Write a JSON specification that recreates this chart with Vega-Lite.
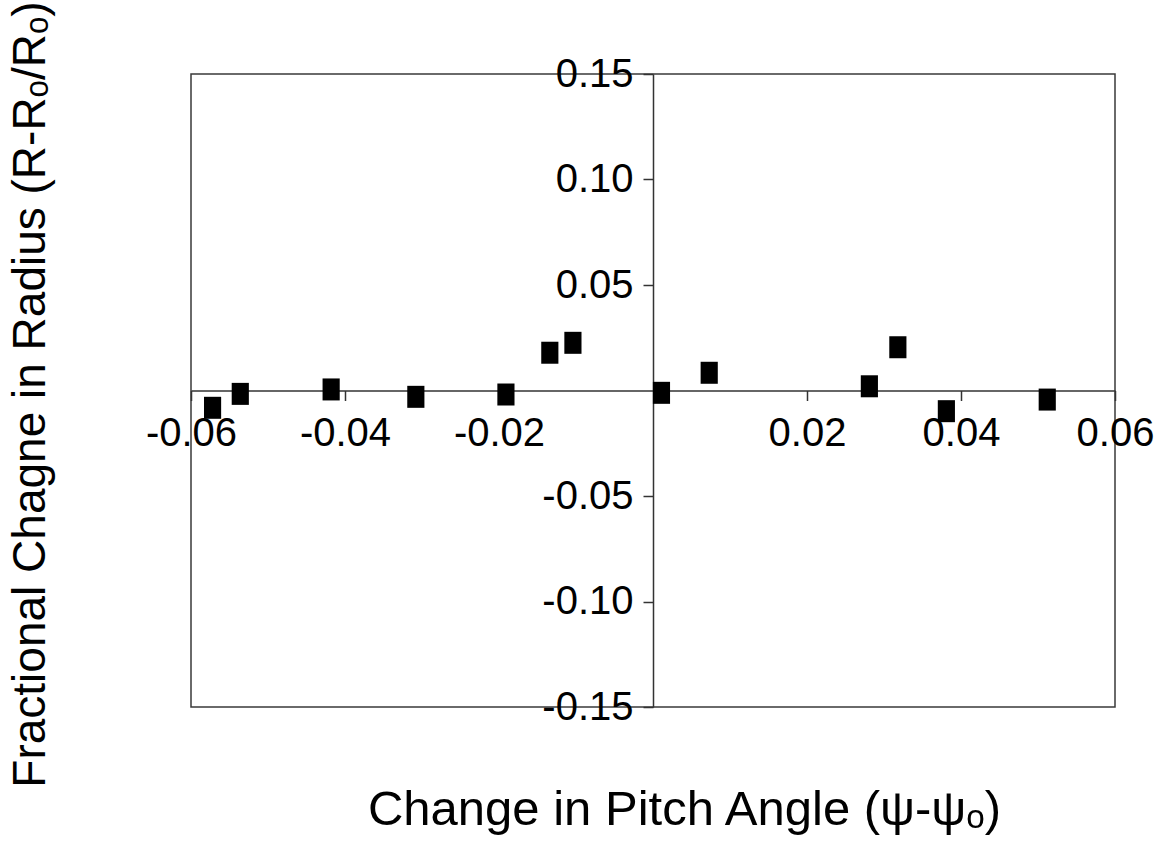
{
  "$schema": "https://vega.github.io/schema/vega-lite/v6.json",
  "autosize": {"type": "none"},
  "width": 924,
  "height": 633,
  "padding": {"left": 191, "top": 74, "right": 54, "bottom": 137},
  "background": "white",
  "config": {
    "font": "Liberation Sans",
    "view": {"stroke": "#3a3a3a", "strokeWidth": 1.5}
  },
  "data": {
    "values": [
      {"dpsi": -0.0572, "dr": -0.0082},
      {"dpsi": -0.0536, "dr": -0.0016},
      {"dpsi": -0.0418, "dr": 0.0005},
      {"dpsi": -0.0308, "dr": -0.0030},
      {"dpsi": -0.0191, "dr": -0.0019},
      {"dpsi": -0.0134, "dr": 0.0179},
      {"dpsi": -0.0104, "dr": 0.0226},
      {"dpsi": 0.0011, "dr": -0.0011},
      {"dpsi": 0.0073, "dr": 0.0084},
      {"dpsi": 0.0281, "dr": 0.0020},
      {"dpsi": 0.0318, "dr": 0.0205},
      {"dpsi": 0.0381, "dr": -0.0098},
      {"dpsi": 0.0512, "dr": -0.0043}
    ]
  },
  "mark": {
    "type": "point",
    "shape": "M-0.78,-1L0.78,-1L0.78,1L-0.78,1Z",
    "filled": true,
    "color": "black",
    "opacity": 1,
    "size": 484,
    "clip": false
  },
  "encoding": {
    "x": {
      "field": "dpsi",
      "type": "quantitative",
      "scale": {"domain": [-0.06, 0.06], "nice": false, "zero": false},
      "axis": {
        "orient": "bottom",
        "offset": -316.5,
        "values": [-0.06, -0.04, -0.02, 0.02, 0.04, 0.06],
        "format": ".2f",
        "labelExpr": "replace(datum.label, '−', '-')",
        "grid": false,
        "domainColor": "#333",
        "domainWidth": 1.5,
        "tickColor": "#333",
        "tickWidth": 1.5,
        "tickSize": 10,
        "labelFontSize": 40,
        "labelColor": "black",
        "labelPadding": 13,
        "labelFlush": false,
        "labelOverlap": false,
        "labelBound": false,
        "title": "Change in Pitch Angle (ψ-ψₒ)",
        "titleFontSize": 49,
        "titleFontWeight": "normal",
        "titleColor": "black",
        "titleX": 493,
        "titleY": 434,
        "titleAlign": "center",
        "titleBaseline": "alphabetic",
        "titleAnchor": null
      }
    },
    "y": {
      "field": "dr",
      "type": "quantitative",
      "scale": {"domain": [-0.15, 0.15], "nice": false, "zero": false},
      "axis": {
        "orient": "left",
        "offset": -462,
        "values": [-0.15, -0.10, -0.05, 0.05, 0.10, 0.15],
        "format": ".2f",
        "labelExpr": "replace(datum.label, '−', '-')",
        "grid": false,
        "domainColor": "#333",
        "domainWidth": 1.5,
        "tickColor": "#333",
        "tickWidth": 1.5,
        "tickSize": 10,
        "labelFontSize": 40,
        "labelColor": "black",
        "labelPadding": 10,
        "labelFlush": false,
        "labelOverlap": false,
        "labelBound": false,
        "title": "Fractional Chagne in Radius (R-Rₒ/Rₒ)",
        "titleFontSize": 46,
        "titleFontWeight": "normal",
        "titleColor": "black",
        "titleAngle": 270,
        "titleX": -609,
        "titleY": 320,
        "titleAlign": "center",
        "titleBaseline": "alphabetic",
        "titleAnchor": null
      }
    }
  }
}
